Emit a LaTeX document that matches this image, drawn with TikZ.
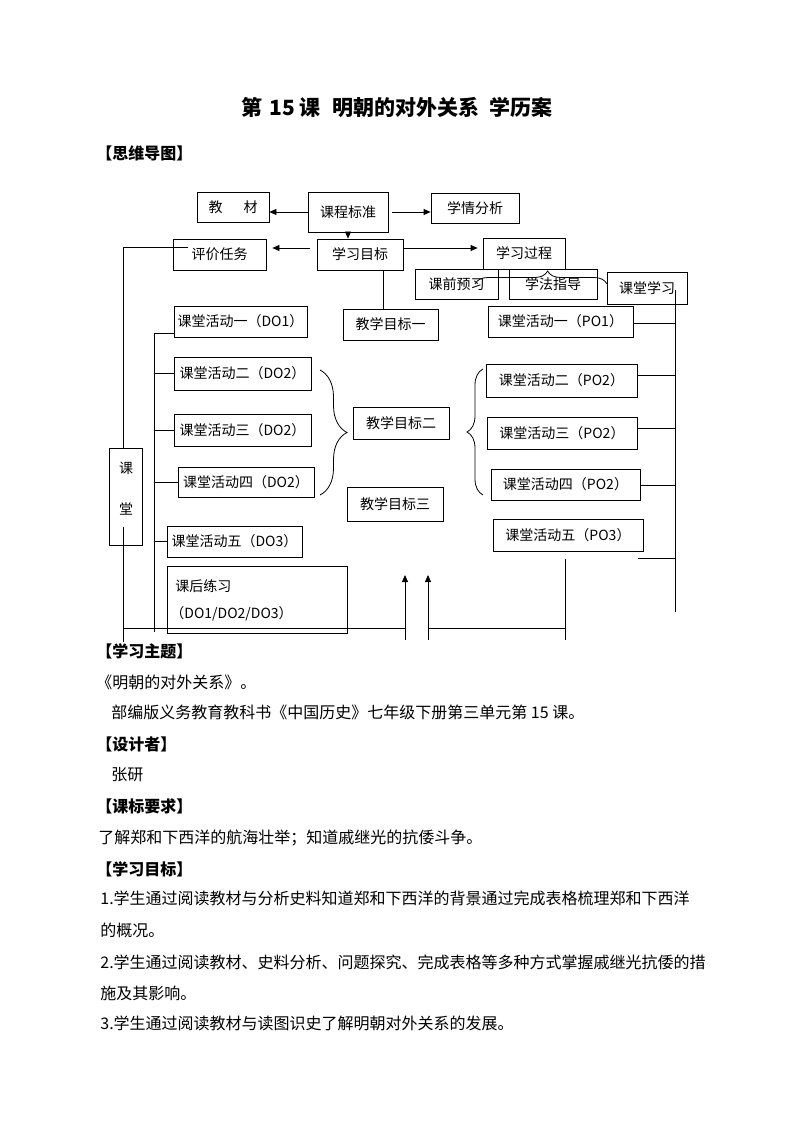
\documentclass[tikz,border=0pt]{standalone}
\usepackage{fontspec}
\setmainfont{Noto Sans CJK SC}
\usetikzlibrary{arrows.meta}
\usetikzlibrary{decorations.pathreplacing}

\tikzset{
	box/.style 2 args={draw, inner sep=0pt, minimum width=#1, minimum height=#2, font=\fontsize{14}{16}\selectfont},
	lbl/.style={inner sep=0pt, font=\fontsize{14}{16}\selectfont},
	arr/.style={-{Triangle[length=7pt,width=6pt]}},
	brc/.style={decorate, decoration={brace, amplitude=#1}},
	txt/.style={anchor=west, inner sep=0pt, font=\fontsize{16}{18}\selectfont},
	hd/.style={anchor=west, inner sep=0pt, font=\fontsize{16}{18}\selectfont\bfseries},
}

\begin{document}
\begin{tikzpicture}[x=1pt, y=-1pt, line width=0.8pt]
		\useasboundingbox (0,0) rectangle (794,1123);
		\node (title) at (397,108) {\fontsize{21}{24}\selectfont\bfseries 第\hspace{0.35em}15\hspace{0.2em}课\hspace{0.55em}明朝的对外关系\hspace{0.5em}学历案};
		\node[hd] (mind) at (96,153) {【思维导图】};
		% top part
		\node[box={72pt}{30pt}] (jiaocai) at (233,207) {教\hspace{1.5em}材};
		\node[box={80pt}{40pt}] (kcbz) at (348,212) {课程标准};
		\node[box={88pt}{30pt}] (xqfx) at (475,208) {学情分析};
		\node[box={93pt}{31pt}] (pjrw) at (219.5,254.5) {评价任务};
		\node[box={86pt}{31pt}] (xxmb) at (360,254.5) {学习目标};
		\node[box={82pt}{31pt}] (xxgc) at (524,253.5) {学习过程};
		\node[box={83pt}{30pt}] (kqyx) at (456.5,284) {课前预习};
		\node[box={88pt}{30pt}] (xfzd) at (553,284) {学法指导};
		\node[box={80pt}{32pt}] (ktxx) at (647,288) {课堂学习};
		\node[box={95pt}{31pt}] (mb1) at (390.5,324.5) {教学目标一};
		\node[box={96pt}{32pt}] (mb2) at (401,423) {教学目标二};
		\node[box={96pt}{34pt}] (mb3) at (395,504) {教学目标三};
		% activities
		\foreach \i/\x/\y/\w/\h/\cn/\code in {1/240.5/321.5/133/31/一/DO1, 2/242.5/373.5/137/33/二/DO2,
			3/242.5/430/137/32/三/DO2, 4/246/482/136/30/四/DO2, 5/234.5/541.5/135/31/五/DO3} {
			\node[box={\w pt}{\h pt}] (do\i) at (\x,\y) {课堂活动\cn（\code）};
		}
		\foreach \i/\x/\y/\w/\h/\cn/\code in {1/560.5/321.5/145/31/一/PO1, 2/561.5/380.5/151/33/二/PO2,
			3/562/433/150/32/三/PO2, 4/565.5/484.5/149/31/四/PO2, 5/568/535/150/32/五/PO3} {
			\node[box={\w pt}{\h pt}] (po\i) at (\x,\y) {课堂活动\cn（\code）};
		}
		\node[box={180pt}{67pt}] (khlx) at (257,599.5) {};
		\node[lbl, anchor=west] (khlx1) at (175,586) {课后练习};
		\node[lbl, anchor=west] (khlx2) at (170,614) {（DO1/DO2/DO3）};
		\node[box={33pt}{97pt}] (ketang) at (125.5,496.5) {};
		\node[lbl] (ke) at (126,468) {课};
		\node[lbl] (tang) at (126,509) {堂};
		% arrows
		\draw[arr] (kcbz.west) -- (kcbz.west -| jiaocai.east);
		\draw[arr, shorten <=4pt] (kcbz.east) -- (kcbz.east -| xqfx.west);
		\draw[arr] (kcbz.south) -- (kcbz.south |- xxmb.north);
		\draw[arr, shorten <=7pt, shorten >=6pt] ([yshift=6.5pt]xxmb.west) -- ([yshift=6.5pt]xxmb.west -| pjrw.east);
		\draw[arr, shorten >=5pt] ([yshift=6.5pt]xxmb.east) -- ([yshift=6.5pt]xxmb.east -| xxgc.west);
		\draw ([xshift=-7.5pt]mb1.north) -- ([xshift=-7.5pt]mb1.north |- xxmb.south);
		\draw ([xshift=15pt,yshift=7.5pt]pjrw.west) -| ([xshift=-2.5pt]ketang.north);
		% braces
		\draw[brc=13pt, decoration={aspect=0.55}] (475,284) -- (607,284);
		\draw[brc=27pt] (320,370) -- (320,495);
		\draw[brc=16pt] (483,495) -- (483,369);
		% left lines
		\coordinate (ltop) at (154,333);
		\coordinate (lbot) at (154,632);
		\draw (ltop) -- (lbot);
		\draw ([yshift=-11.5pt]do1.west -| ltop) -- ([yshift=-11.5pt]do1.west);
		\foreach \i in {2,...,5} {
			\draw (do\i.west -| ltop) -- (do\i.west);
		}
		\coordinate (kin) at (123,527);
		\coordinate (kend) at (123,642);
		\draw (kin) -- (kend);
		\coordinate (lbase) at (123,628);
		\coordinate (arrL) at (405,640);
		\coordinate (arrR) at (428,640);
		\draw (lbase) -- (lbase -| arrL);
		\draw[arr] (arrL) -- ++(0,-65);
		\draw[arr] (arrR) -- ++(0,-65);
		% right lines
		\coordinate (rtop) at (675,290);
		\coordinate (rbot) at (675,612);
		\draw (rtop) -- (rbot);
		\foreach \i/\dy in {1/-1.5, 2/5.5, 3/5, 4/-0.5} {
			\draw ([yshift=\dy pt]po\i.east) -- ([yshift=\dy pt]po\i.east -| rtop);
		}
		\coordinate (r5) at (638,558);
		\draw (r5) -- (r5 -| rtop);
		\coordinate (rb1) at (565,559);
		\coordinate (rb2) at (565,640);
		\draw (rb1) -- (rb2);
		\draw (rb1 |- lbase) -- (lbase -| arrR);
		% text below
		\node[hd] (h1) at (96,651) {【学习主题】};
		\node[txt] (t1) at (96,682) {《明朝的对外关系》。};
		\node[txt] (t2) at (111,712) {部编版义务教育教科书《中国历史》七年级下册第三单元第 15 课。};
		\node[hd] (h2) at (96,744) {【设计者】};
		\node[txt] (t3) at (111,775) {张研};
		\node[hd] (h3) at (96,806) {【课标要求】};
		\node[txt] (t4) at (98,838) {了解郑和下西洋的航海壮举；知道戚继光的抗倭斗争。};
		\node[hd] (h4) at (96,869) {【学习目标】};
		\node[txt] (t5) at (100,898) {1.学生通过阅读教材与分析史料知道郑和下西洋的背景通过完成表格梳理郑和下西洋};
		\node[txt] (t6) at (100,930) {的概况。};
		\node[txt] (t7) at (100,962) {2.学生通过阅读教材、史料分析、问题探究、完成表格等多种方式掌握戚继光抗倭的措};
		\node[txt] (t8) at (100,993) {施及其影响。};
		\node[txt] (t9) at (100,1023) {3.学生通过阅读教材与读图识史了解明朝对外关系的发展。};
\end{tikzpicture}
\end{document}
